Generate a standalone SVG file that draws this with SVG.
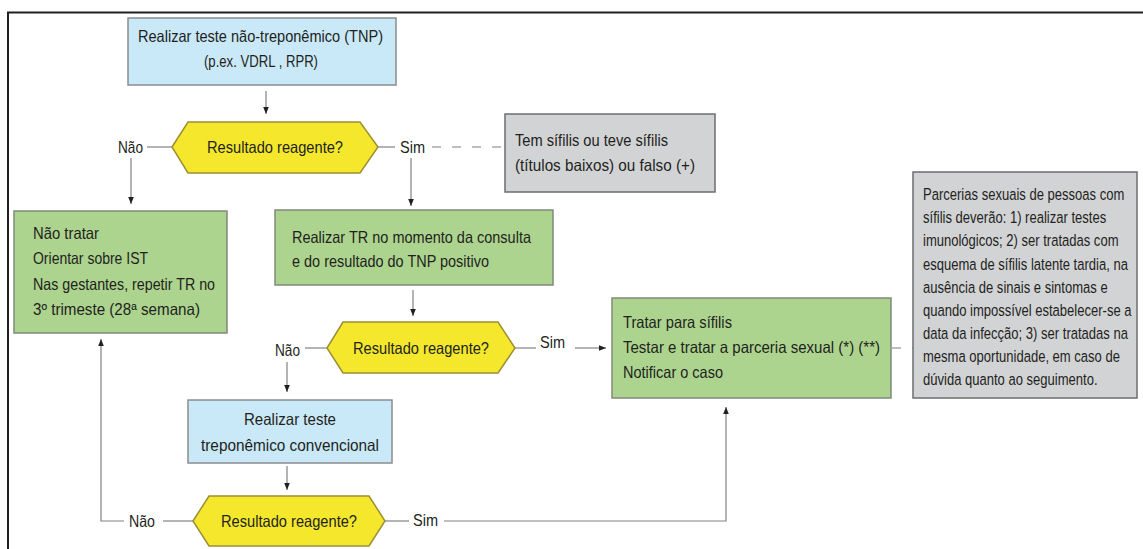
<svg xmlns="http://www.w3.org/2000/svg" width="1143" height="549" viewBox="0 0 1143 549">
  <style>
    text{font-family:"Liberation Sans",Arial,sans-serif;font-size:16.5px;fill:#231f20}
    .s{font-size:15.4px}
    .blue{fill:#c9e9f9;stroke:#8a8c8e;stroke-width:1.5}
    .green{fill:#acd48f;stroke:#7f8a78;stroke-width:1.5}
    .gray{fill:#d2d3d5;stroke:#6d6e71;stroke-width:1.5}
    .hex{fill:#f5e82c;stroke:#9c8f33;stroke-width:1.5}
    .ln{stroke:#808285;stroke-width:1.2;fill:none}
    .ar{marker-end:url(#ah)}
    .dash{stroke:#a7a9ac;stroke-width:1.5;stroke-dasharray:9 11;fill:none}
  </style>
  <defs>
    <marker id="ah" viewBox="0 0 8 8" refX="8" refY="4" markerWidth="7" markerHeight="7" orient="auto" markerUnits="userSpaceOnUse">
      <path d="M0,0.8 L8,4 L0,7.2 z" fill="#231f20"/>
    </marker>
  </defs>

  <rect width="1143" height="549" fill="#ffffff"/>
  <!-- frame -->
  <path d="M8,549 V12.5 H1143" fill="none" stroke="#231f20" stroke-width="2"/>

  <!-- connectors -->
  <g id="connectors">
    <line class="ln ar" x1="266" y1="91" x2="266" y2="114"/>
    <line class="ln" x1="147" y1="147" x2="172" y2="147"/>
    <line class="ln ar" x1="131" y1="158" x2="131" y2="204"/>
    <line class="ln" x1="378" y1="147" x2="395" y2="147"/>
    <line class="dash" x1="432" y1="147" x2="505" y2="147"/>
    <line class="ln ar" x1="411" y1="158" x2="411" y2="206"/>
    <line class="ln ar" x1="413" y1="290" x2="413" y2="316"/>
    <line class="ln" x1="305" y1="348" x2="327" y2="348"/>
    <line class="ln ar" x1="287" y1="362" x2="287" y2="392"/>
    <line class="ln" x1="515" y1="348" x2="536" y2="348"/>
    <line class="ln ar" x1="575" y1="348" x2="606" y2="348"/>
    <line class="dash" x1="892" y1="348" x2="913" y2="348"/>
    <line class="ln ar" x1="287" y1="466" x2="287" y2="490"/>
    <line class="ln" x1="163" y1="521" x2="193" y2="521"/>
    <polyline class="ln ar" points="124,521 101,521 101,339"/>
    <line class="ln" x1="385" y1="521" x2="409" y2="521"/>
    <polyline class="ln ar" points="444,521 726,521 726,407"/>
  </g>

  <!-- edge labels -->
  <g id="labels">
    <text x="118" y="153" textLength="25" lengthAdjust="spacingAndGlyphs">Não</text>
    <text x="400" y="153" textLength="25" lengthAdjust="spacingAndGlyphs">Sim</text>
    <text x="275" y="356" textLength="25" lengthAdjust="spacingAndGlyphs">Não</text>
    <text x="540" y="348" textLength="25" lengthAdjust="spacingAndGlyphs">Sim</text>
    <text x="129" y="527" textLength="26" lengthAdjust="spacingAndGlyphs">Não</text>
    <text x="413" y="526" textLength="25" lengthAdjust="spacingAndGlyphs">Sim</text>
  </g>

  <g id="tnp">
    <rect x="128" y="18" width="268" height="67" class="blue"/>
    <text x="138" y="41.5" textLength="245" lengthAdjust="spacingAndGlyphs">Realizar teste não-treponêmico (TNP)</text>
    <text x="204" y="67" textLength="114" lengthAdjust="spacingAndGlyphs">(p.ex. VDRL , RPR)</text>
  </g>

  <g id="decision1">
    <polygon class="hex" points="172,147 188,122 360,122 378,147 360,173 188,173"/>
    <text x="207" y="153" textLength="136" lengthAdjust="spacingAndGlyphs">Resultado reagente?</text>
  </g>

  <g id="note1">
    <rect class="gray" x="505" y="114" width="210" height="78"/>
    <text x="515" y="146" textLength="153" lengthAdjust="spacingAndGlyphs">Tem sífilis ou teve sífilis</text>
    <text x="515" y="171" textLength="180" lengthAdjust="spacingAndGlyphs">(títulos baixos) ou falso (+)</text>
  </g>

  <g id="nao-tratar">
    <rect class="green" x="14" y="211" width="213" height="122"/>
    <text x="33" y="238.5" textLength="66" lengthAdjust="spacingAndGlyphs">Não tratar</text>
    <text x="33" y="263.5" textLength="115" lengthAdjust="spacingAndGlyphs">Orientar sobre IST</text>
    <text x="33" y="289.5" textLength="182" lengthAdjust="spacingAndGlyphs">Nas gestantes, repetir TR no</text>
    <text x="33" y="315" textLength="167" lengthAdjust="spacingAndGlyphs">3º trimeste (28ª semana)</text>
  </g>

  <g id="tr">
    <rect class="green" x="275" y="210" width="278" height="75"/>
    <text x="292" y="242.5" textLength="239" lengthAdjust="spacingAndGlyphs">Realizar TR no momento da consulta</text>
    <text x="292" y="266.5" textLength="197" lengthAdjust="spacingAndGlyphs">e do resultado do TNP positivo</text>
  </g>

  <g id="decision2">
    <polygon class="hex" points="327,348 343,322 498,322 515,348 498,373 343,373"/>
    <text x="353" y="354" textLength="136" lengthAdjust="spacingAndGlyphs">Resultado reagente?</text>
  </g>

  <g id="tratar">
    <rect class="green" x="612" y="298" width="279" height="100"/>
    <text x="623" y="328" textLength="109" lengthAdjust="spacingAndGlyphs">Tratar para sífilis</text>
    <text x="623" y="353" textLength="257" lengthAdjust="spacingAndGlyphs">Testar e tratar a parceria sexual (*) (**)</text>
    <text x="623" y="378" textLength="100" lengthAdjust="spacingAndGlyphs">Notificar o caso</text>
  </g>

  <g id="note2">
    <rect class="gray" x="913" y="172" width="224" height="226"/>
    <!-- condensed paragraph: horizontal squeeze keeps the lines inside the box -->
    <g class="s" transform="translate(923,0) scale(0.79,1)">
      <text x="0" y="200.5">Parcerias sexuais de pessoas com</text>
      <text x="0" y="223.5">sífilis deverão: 1) realizar testes</text>
      <text x="0" y="246.5">imunológicos; 2) ser tratadas com</text>
      <text x="0" y="270">esquema de sífilis latente tardia, na</text>
      <text x="0" y="293">ausência de sinais e sintomas e</text>
      <text x="0" y="316.5">quando impossível estabelecer-se a</text>
      <text x="0" y="339.5">data da infecção; 3) ser tratadas na</text>
      <text x="0" y="362.5">mesma oportunidade, em caso de</text>
      <text x="0" y="385.5">dúvida quanto ao seguimento.</text>
    </g>
  </g>

  <g id="treponemico">
    <rect class="blue" x="188" y="400" width="204" height="63"/>
    <text x="244" y="425" textLength="92" lengthAdjust="spacingAndGlyphs">Realizar teste</text>
    <text x="201" y="451" textLength="178" lengthAdjust="spacingAndGlyphs">treponêmico convencional</text>
  </g>

  <g id="decision3">
    <polygon class="hex" points="193,521 209,496 369,496 385,521 369,546 209,546"/>
    <text x="221" y="527" textLength="136" lengthAdjust="spacingAndGlyphs">Resultado reagente?</text>
  </g>
</svg>
